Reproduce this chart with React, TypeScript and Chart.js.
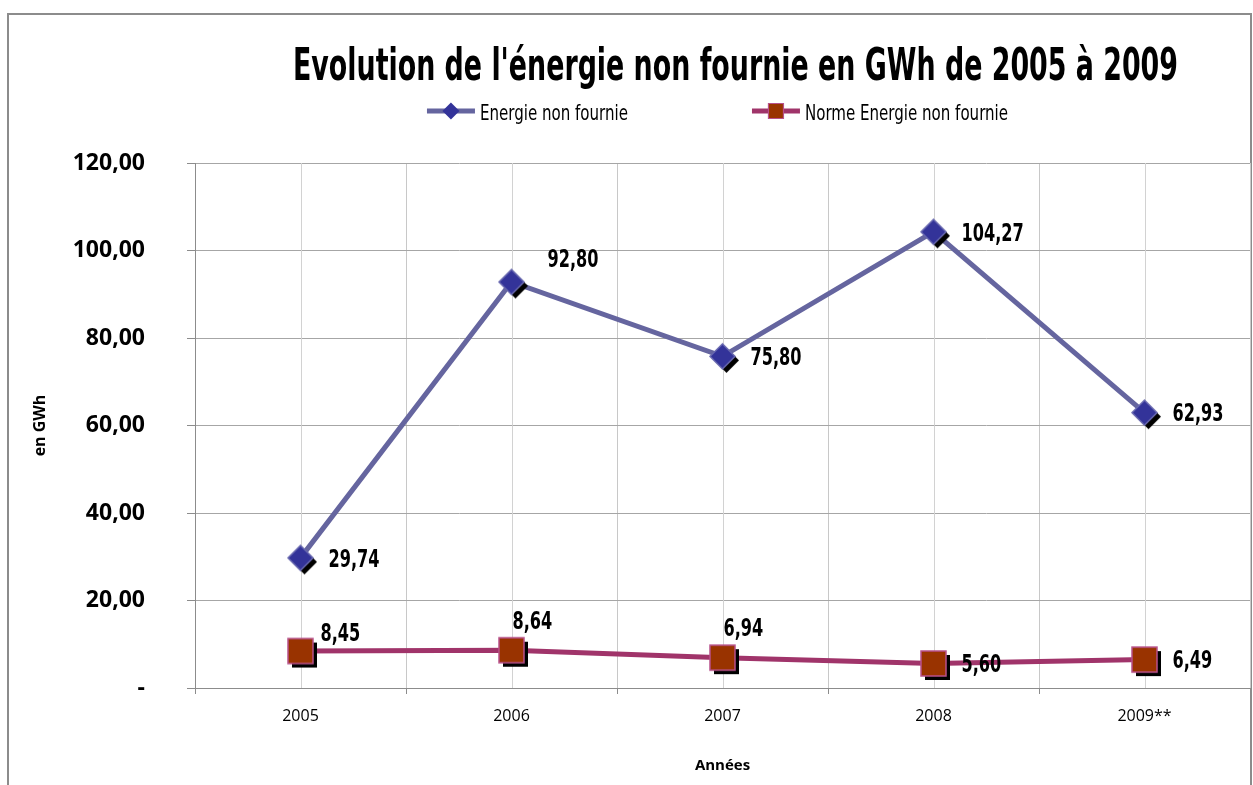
import React, { useEffect, useRef } from "react";
import { Chart, registerables } from "chart.js";

Chart.register(...registerables);

// ---------- data ----------
const categories = ["2005", "2006", "2007", "2008", "2009**"];
const energieNonFournie = [29.74, 92.8, 75.8, 104.27, 62.93];
const normeEnergieNonFournie = [8.45, 8.64, 6.94, 5.6, 6.49];
const yTickValues = [0, 20, 40, 60, 80, 100, 120];
const seriesNames = ["Energie non fournie", "Norme Energie non fournie"];
const energieLabelPlacement = ["right", "upRightFar", "right", "right", "right"];
const normeLabelPlacement = ["upRight", "up", "up", "right", "right"];
const titleText = "Evolution de l'énergie non fournie en GWh de 2005 à 2009";
const xAxisTitle = "Années";
const yAxisTitle = "en GWh";

// ---------- styles ----------
const NARROW = "'DejaVu Sans Condensed', 'Liberation Sans Narrow', sans-serif";
const SANS = "'Open Sans', 'Noto Sans', sans-serif";
const BLUE_LINE = "#65659f";
const BLUE_FILL = "#333399";
const BLUE_EDGE = "#6a6ab0";
const RED_LINE = "#a0346a";
const RED_FILL = "#993300";
const RED_EDGE = "#b8508a";

const fmt = (v: number) => v.toFixed(2).replace(".", ",");

function makeMarker(kind: "diamond" | "square", fill: string, stroke: string, half: number, shadow: number) {
  const pad = 2;
  const size = Math.ceil(2 * (half + shadow + pad));
  const c = document.createElement("canvas");
  c.width = size;
  c.height = size;
  const ctx = c.getContext("2d")!;
  const cx = size / 2;
  const cy = size / 2;
  const path = (dx: number, dy: number) => {
    ctx.beginPath();
    if (kind === "diamond") {
      ctx.moveTo(cx + dx, cy + dy - half);
      ctx.lineTo(cx + dx + half, cy + dy);
      ctx.lineTo(cx + dx, cy + dy + half);
      ctx.lineTo(cx + dx - half, cy + dy);
    } else {
      ctx.rect(cx + dx - half, cy + dy - half, half * 2, half * 2);
    }
    ctx.closePath();
  };
  if (shadow > 0) {
    ctx.fillStyle = "#000";
    path(shadow, shadow);
    ctx.fill();
  }
  ctx.fillStyle = fill;
  path(0, 0);
  ctx.fill();
  ctx.strokeStyle = stroke;
  ctx.lineWidth = 1.5;
  ctx.stroke();
  return c;
}

const framePlugin = {
  id: "frame",
  beforeDraw(chart: any) {
    const ctx = chart.ctx;
    ctx.save();
    ctx.fillStyle = "#ffffff";
    ctx.fillRect(0, 0, chart.width, chart.height);
    ctx.strokeStyle = "#8c8c8c";
    ctx.lineWidth = 2;
    ctx.strokeRect(8, 14, chart.width - 10, chart.height + 100);
    ctx.restore();
  },
};

const centerGridPlugin = {
  id: "centerGrid",
  beforeDatasetsDraw(chart: any) {
    const { ctx, chartArea } = chart;
    const xs = chart.scales.x;
    ctx.save();
    ctx.strokeStyle = "#d2d2d2";
    ctx.lineWidth = 1;
    for (let i = 0; i < categories.length; i++) {
      const x = Math.round(xs.getPixelForTick(i)) + 0.5;
      ctx.beginPath();
      ctx.moveTo(x, chartArea.top);
      ctx.lineTo(x, chartArea.bottom);
      ctx.stroke();
    }
    ctx.restore();
  },
};

const placementOffsets: Record<string, [number, number]> = {
  right: [28, 0],
  upRight: [20, -19],
  upRightFar: [36, -24],
  up: [1, -30],
};

const dataLabelPlugin = {
  id: "valueLabels",
  afterDatasetsDraw(chart: any) {
    const ctx = chart.ctx;
    const fontSize = 24;
    ctx.save();
    ctx.font = `bold ${fontSize}px ${NARROW}`;
    ctx.fillStyle = "#000";
    ctx.textAlign = "left";
    ctx.textBaseline = "alphabetic";
    const sx = 51 / ctx.measureText("29,74").width;
    const placements = [energieLabelPlacement, normeLabelPlacement];
    chart.data.datasets.forEach((ds: any, di: number) => {
      const meta = chart.getDatasetMeta(di);
      meta.data.forEach((pt: any, i: number) => {
        const [dx, dy] = placementOffsets[placements[di][i]] || [28, 0];
        ctx.save();
        ctx.translate(pt.x + dx, pt.y + dy + fontSize * 0.365);
        ctx.scale(sx, 1);
        ctx.fillText(fmt(ds.data[i]), 0, 0);
        ctx.restore();
      });
    });
    ctx.restore();
  },
};

const titleLegendPlugin = {
  id: "titleLegend",
  afterDraw(chart: any) {
    const ctx = chart.ctx;
    const area = chart.chartArea;
    ctx.save();
    // title
    ctx.font = `bold 44px ${NARROW}`;
    ctx.fillStyle = "#000";
    ctx.textAlign = "center";
    ctx.textBaseline = "alphabetic";
    const w = ctx.measureText(titleText).width;
    const sx = Math.min(1, 885 / w);
    ctx.translate(735.5, 80);
    ctx.scale(sx, 1);
    ctx.fillText(titleText, 0, 0);
    ctx.setTransform(1, 0, 0, 1, 0, 0);

    // legend
    ctx.font = `21px ${NARROW}`;
    ctx.textAlign = "left";
    const lsx = 148 / ctx.measureText(seriesNames[0]).width;
    const symW = 48;
    const gapText = 5;
    const gapItems = 124;
    const widths = seriesNames.map((n) => ctx.measureText(n).width * lsx);
    const total = widths.reduce((a, b) => a + b, 0) + seriesNames.length * (symW + gapText) + gapItems * (seriesNames.length - 1);
    let x = (area.left + area.right) / 2 - total / 2 - 5;
    const yLine = 111;
    chart.data.datasets.forEach((ds: any, i: number) => {
      ctx.strokeStyle = ds.borderColor;
      ctx.lineWidth = 5;
      ctx.beginPath();
      ctx.moveTo(x, yLine);
      ctx.lineTo(x + symW, yLine);
      ctx.stroke();
      const cx = x + symW / 2;
      ctx.beginPath();
      if (i === 0) {
        const h = 8.5;
        ctx.moveTo(cx, yLine - h);
        ctx.lineTo(cx + h, yLine);
        ctx.lineTo(cx, yLine + h);
        ctx.lineTo(cx - h, yLine);
        ctx.closePath();
        ctx.fillStyle = BLUE_FILL;
        ctx.fill();
      } else {
        const h = 7.5;
        ctx.rect(cx - h, yLine - h, 2 * h, 2 * h);
        ctx.fillStyle = RED_FILL;
        ctx.fill();
        ctx.strokeStyle = RED_EDGE;
        ctx.lineWidth = 1.2;
        ctx.stroke();
      }
      ctx.fillStyle = "#000";
      ctx.save();
      ctx.translate(x + symW + gapText, 120);
      ctx.scale(lsx, 1);
      ctx.fillText(seriesNames[i], 0, 0);
      ctx.restore();
      x += symW + gapText + widths[i] + gapItems;
    });
    ctx.restore();
  },
};

export default function App() {
  const ref = useRef<HTMLCanvasElement | null>(null);

  useEffect(() => {
    if (!ref.current) return;
    const diamond = makeMarker("diamond", BLUE_FILL, BLUE_EDGE, 12.5, 4);
    const square = makeMarker("square", RED_FILL, RED_EDGE, 12.5, 4);

    const chart = new Chart(ref.current, {
      type: "line",
      data: {
        labels: categories,
        datasets: [
          {
            label: seriesNames[0],
            data: energieNonFournie,
            borderColor: BLUE_LINE,
            backgroundColor: BLUE_FILL,
            borderWidth: 5,
            pointStyle: diamond as any,
            pointRadius: 13,
            tension: 0,
          },
          {
            label: seriesNames[1],
            data: normeEnergieNonFournie,
            borderColor: RED_LINE,
            backgroundColor: RED_FILL,
            borderWidth: 5,
            pointStyle: square as any,
            pointRadius: 13,
            tension: 0,
          },
        ],
      },
      options: {
        animation: false,
        responsive: false,
        maintainAspectRatio: false,
        layout: { autoPadding: false, padding: { top: 163, left: 8, right: 3, bottom: 4 } },
        plugins: {
          legend: { display: false },
          title: { display: false },
          tooltip: { enabled: false },
        },
        scales: {
          x: {
            type: "category",
            offset: true,
            grid: {
              offset: true,
              color: "#c8c8c8",
              tickColor: "#8c8c8c",
              tickLength: 6,
            },
            border: { color: "#8c8c8c", width: 1 },
            ticks: {
              color: "#000",
              padding: 13,
              font: { family: SANS, size: 16 },
              maxRotation: 0,
            },
            title: {
              display: true,
              text: xAxisTitle,
              color: "#000",
              font: { family: SANS, size: 15, weight: "bold" },
              padding: { top: 4, bottom: 6 },
            },
            afterFit: (s: any) => {
              s.height = 93;
            },
          },
          y: {
            min: 0,
            max: 120,
            grid: {
              color: "#a6a6a6",
              tickColor: "#8c8c8c",
              tickLength: 8,
            },
            border: { color: "#8c8c8c", width: 1 },
            afterBuildTicks: (s: any) => {
              s.ticks = yTickValues.map((v) => ({ value: v }));
            },
            ticks: {
              color: "#000",
              padding: 42,
              font: { family: SANS, size: 23, weight: "bold" },
              callback: (v: any) => (Number(v) === 0 ? "-" : fmt(Number(v))),
            },
            title: {
              display: true,
              text: yAxisTitle,
              color: "#000",
              font: { family: SANS, size: 16, weight: "bold" },
              padding: { top: 23, bottom: 0 },
            },
            afterFit: (s: any) => {
              s.width = 187;
            },
          },
        },
      },
      plugins: [framePlugin, centerGridPlugin, dataLabelPlugin, titleLegendPlugin],
    });
    return () => chart.destroy();
  }, []);

  return (
    <div style={{ position: "absolute", left: 0, top: 0, width: 1253, height: 785, overflow: "hidden", background: "#fff" }}>
      <canvas ref={ref} width={1253} height={785} style={{ width: 1253, height: 785, display: "block" }} />
    </div>
  );
}
